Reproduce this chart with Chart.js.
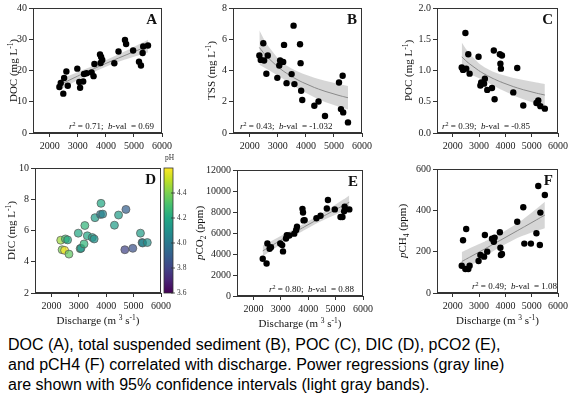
<!DOCTYPE html>
<html>
<head>
<meta charset="utf-8">
<script src="https://cdn.jsdelivr.net/npm/chart.js@4.4.0/dist/chart.umd.min.js"></script>
<style>
  body { margin: 0; width: 571px; height: 404px; background: #fff; position: relative; overflow: hidden; }
  canvas { position: absolute; }
  #caption { position: absolute; left: 8px; top: 335px; font-family: "Liberation Sans", Arial, sans-serif;
             font-size: 16px; line-height: 20px; color: #000; white-space: nowrap; }
</style>
</head>
<body>
<canvas id="A"></canvas>
<canvas id="B"></canvas>
<canvas id="C"></canvas>
<canvas id="D"></canvas>
<canvas id="E"></canvas>
<canvas id="F"></canvas>
<div id="caption">DOC (A), total suspended sediment (B), POC (C), DIC (D), pCO2 (E),<br>and pCH4 (F) correlated with discharge. Power regressions (gray line)<br>are shown with 95% confidence intervals (light gray bands).</div>
<script>
// discharge (m3 s-1) of each sample, shared by all panels
const discharge = [2340, 2390, 2480, 2510, 2590, 2640, 2980, 3050, 3080, 3190, 3220, 3310, 3490, 3560, 3590,
                   3790, 3810, 3830, 3870, 4300, 4450, 4680, 4720, 4970, 5180, 5250, 5310, 5330, 5500]

// measured values, null where the sample has no point in that panel
const doc  = [14.7, 16.0, 12.6, 17.6, 19.7, 15.1, 20.6, 16.3, 14.5, 16.5, 18.9, 19.1, 19.4, 18.2, 22.1,
              25.1, 22.4, 24.3, 23.4, 22.3, 26.1, 29.8, 28.5, 26.4, 22.8, 21.6, 25.6, 27.7, 28.0]
const tss  = [4.96, 4.68, 5.74, 4.64, 3.79, 4.96, 3.53, 4.32, 4.64, 4.55, 5.64, 3.19, 3.77, 6.87, 3.13,
              5.68, 4.47, 2.70, 2.11, 1.74, 2.02, 1.09, null, null, 3.23, 1.53, 3.66, 1.32, 0.68]
const poc  = [1.05, 1.01, 1.60, 1.03, 1.26, 0.95, 1.22, 0.76, 0.81, 0.79, 0.87, 0.69, 0.72, 1.32, 0.54,
              1.26, 1.11, 1.03, 1.24, 0.65, 1.04, 0.44, null, null, 0.48, 0.52, null, 0.43, 0.39]
const dic  = [5.38, 4.77, 4.73, 5.46, 5.40, 4.49, 5.83, 4.84, 4.86, 5.14, 6.32, 5.66, 5.55, 5.46, 6.82,
              7.03, 7.74, null, 7.05, 6.34, 6.99, 4.77, 7.35, 4.86, null, 5.83, 5.23, 5.20, 5.23]
const ph   = [4.45, 4.40, 4.60, 4.30, 4.20, 4.35, 4.20, 4.25, 4.10, 4.25, 4.25, 4.20, 4.15, 4.10, 4.15,
              4.00, 4.20, null, 4.05, 4.15, 4.15, 3.80, 3.90, 3.85, null, 4.15, 4.00, 4.05, 4.10]
const pco2 = [3550, null, 3090, 5000, 4500, 4650, 5000, 4850, 4250, 5480, 5800, 5760, 5940, 6280, 6590,
              8300, 7950, 7200, 7230, 7400, 7650, 8330, 9140, 8250, 7530, 7530, 8060, 8500, 8250]
const pch4 = [132, 255, 116, 310, 116, 132, 155, 184, null, 176, 281, 200, 263, 248, 268,
              294, 219, 184, 189, null, 345, 415, 239, 239, 289, 518, 232, 389, 474]

// tick labels
const dischargeTicks = [2000, 3000, 4000, 5000, 6000]
const docTicks  = [0, 10, 20, 30, 40]
const tssTicks  = [0, 2, 4, 6, 8]
const pocTicks  = [0, 0.5, 1.0, 1.5, 2.0]
const dicTicks  = [2, 4, 6, 8, 10]
const pco2Ticks = [0, 2000, 4000, 6000, 8000, 10000, 12000]
const pch4Ticks = [0, 200, 400, 600]
const phTicks   = [3.6, 3.8, 4.0, 4.2, 4.4]

// regression statistics printed in the panels
const r2Vals = ["0.71", "0.43", "0.39", "0.80", "0.49"]
const bVals  = ["0.69", "-1.032", "-0.85", "0.88", "1.08"]

const SERIF = '"Liberation Serif", "Times New Roman", serif'
const viridis = ["#440154", "#482475", "#414487", "#355f8d", "#2a788e", "#21918c", "#22a884", "#44bf70", "#7ad151", "#bddf26", "#fde725"]
const phMin = 3.6, phMax = 4.6

function hexRgb(h) { return [1, 3, 5].map(i => parseInt(h.substr(i, 2), 16)) }
function viridisColor(t, alpha) {
    t = Math.max(0, Math.min(1, t)) * (viridis.length - 1)
    const i = Math.min(Math.floor(t), viridis.length - 2), f = t - i
    const c0 = hexRgb(viridis[i]), c1 = hexRgb(viridis[i + 1])
    const c = c0.map((v, k) => Math.round(v + (c1[k] - v) * f))
    return `rgba(${c[0]},${c[1]},${c[2]},${alpha})`
}

// power regression y = a*x^b by nonlinear least squares, 95% band from the delta method
function powerFit(xs, ys) {
    const pts = xs.map((x, i) => [x / 1000, ys[i]]).filter(p => p[1] != null)
    const n = pts.length
    // start from the log-log fit
    const lx = pts.map(p => Math.log(p[0])), ly = pts.map(p => Math.log(p[1]))
    const mx = lx.reduce((a, b) => a + b) / n, my = ly.reduce((a, b) => a + b) / n
    let sxx = 0, sxy = 0
    for (let i = 0; i < n; i++) { sxx += (lx[i] - mx) ** 2; sxy += (lx[i] - mx) * (ly[i] - my) }
    let b = sxy / sxx, a = Math.exp(my - b * mx)
    let inv = [[0, 0], [0, 0]]
    for (let it = 0; it < 50; it++) {
        let m00 = 0, m01 = 0, m11 = 0, g0 = 0, g1 = 0
        pts.forEach(([u, y]) => {
            const p = Math.pow(u, b), j0 = p, j1 = a * p * Math.log(u), r = y - a * p
            m00 += j0 * j0; m01 += j0 * j1; m11 += j1 * j1; g0 += j0 * r; g1 += j1 * r
        })
        const det = m00 * m11 - m01 * m01
        inv = [[m11 / det, -m01 / det], [-m01 / det, m00 / det]]
        a += inv[0][0] * g0 + inv[0][1] * g1
        b += inv[1][0] * g0 + inv[1][1] * g1
    }
    let sse = 0
    pts.forEach(([u, y]) => { sse += (y - a * Math.pow(u, b)) ** 2 })
    const s2 = sse / (n - 2), t = 2.06
    const line = [], lo = [], hi = []
    pts.forEach(([u]) => {
        const p = Math.pow(u, b), f = a * p, d0 = p, d1 = a * p * Math.log(u)
        const v = s2 * (d0 * d0 * inv[0][0] + 2 * d0 * d1 * inv[0][1] + d1 * d1 * inv[1][1])
        const se = Math.sqrt(Math.max(v, 0))
        line.push({ x: u * 1000, y: f })
        lo.push({ x: u * 1000, y: f - t * se })
        hi.push({ x: u * 1000, y: f + t * se })
    })
    return { line, lo, hi }
}

function partFont(st, size) {
    const small = st === "sup" || st === "sub"
    return (st === "i" ? "italic " : "") + (small ? size * 0.68 : size) + "px " + SERIF
}
function richWidth(ctx, parts, size) {
    let w = 0
    parts.forEach(([txt, st]) => { ctx.font = partFont(st, size); w += ctx.measureText(txt).width })
    return w
}
function drawRich(ctx, parts, x, y, align, size) {
    const w = richWidth(ctx, parts, size)
    let cx = align === "center" ? x - w / 2 : align === "right" ? x - w : x
    ctx.textAlign = "left"
    ctx.textBaseline = "alphabetic"
    parts.forEach(([txt, st]) => {
        ctx.font = partFont(st, size)
        const dy = st === "sup" ? -size * 0.38 : st === "sub" ? size * 0.25 : 0
        ctx.fillText(txt, cx, y + dy)
        cx += ctx.measureText(txt).width
    })
}
const mgL = name => [[name + " (mg L", ""], ["-1", "sup"], [")", ""]]
const stats = i => [["r", "i"], ["2", "sup"], [" = " + r2Vals[i] + ";  ", ""], ["b", "i"], ["-val  = " + bVals[i], ""]]
const dischargeTitle = [["Discharge (m ", ""], ["3", "sup"], [" s", ""], ["-1", "sup"], [")", ""]]

const panels = [
    { id: "A", values: doc,  ticks: docTicks,  box: [0, 0, 195, 152],     plot: [33, 7, 162, 133],
      yTitle: mgL("DOC"), yTitleX: 13, stats: stats(0), statsAlign: "right", statsX: 154 },
    { id: "B", values: tss,  ticks: tssTicks,  box: [195, 0, 195, 152],   plot: [233, 7, 362, 133],
      yTitle: mgL("TSS"), yTitleX: 211, stats: stats(1), statsAlign: "left", statsX: 240 },
    { id: "C", values: poc,  ticks: pocTicks,  box: [390, 0, 181, 152],   plot: [437, 8, 562, 133], fixed: 1,
      yTitle: mgL("POC"), yTitleX: 408, stats: stats(2), statsAlign: "left", statsX: 442 },
    { id: "D", values: dic,  ticks: dicTicks,  box: [0, 152, 190, 178],   plot: [35, 168, 161, 293], colour: ph,
      yTitle: mgL("DIC"), yTitleX: 11, xTitle: true },
    { id: "E", values: pco2, ticks: pco2Ticks, box: [190, 152, 200, 178], plot: [237, 170, 363, 296],
      yTitle: [["p", "i"], ["CO", ""], ["2", "sub"], [" (ppm)", ""]], yTitleX: 199,
      stats: stats(3), statsAlign: "right", statsX: 354, xTitle: true },
    { id: "F", values: pch4, ticks: pch4Ticks, box: [390, 152, 181, 178], plot: [437, 169, 562, 293],
      yTitle: [["p", "i"], ["CH", ""], ["4", "sub"], [" (ppm)", ""]], yTitleX: 402,
      stats: stats(4), statsAlign: "right", statsX: 557, xTitle: true }
]

function drawDecor(chart, p) {
    const ctx = chart.ctx, a = chart.chartArea
    const [bx, by] = p.box
    ctx.save()
    ctx.strokeStyle = "#333"
    ctx.lineWidth = 1
    ctx.strokeRect(Math.round(a.left) + 0.5, Math.round(a.top) + 0.5, Math.round(a.right - a.left) - 1, Math.round(a.bottom - a.top) - 1)
    ctx.fillStyle = "#111"
    // panel letter
    ctx.font = "bold 15px " + SERIF
    ctx.textAlign = "right"
    ctx.textBaseline = "alphabetic"
    ctx.fillText(p.id, a.right - 5, a.top + 16)
    // regression stats
    if (p.stats) drawRich(ctx, p.stats, p.statsX - bx, a.bottom - 4, p.statsAlign, 9)
    // y title
    ctx.save()
    ctx.translate(p.yTitleX - bx + 4, (a.top + a.bottom) / 2)
    ctx.rotate(-Math.PI / 2)
    drawRich(ctx, p.yTitle, 0, 0, "center", 11)
    ctx.restore()
    if (p.xTitle) drawRich(ctx, dischargeTitle, (a.left + a.right) / 2, a.bottom + 31, "center", 11)
    // colour bar for pH
    if (p.colour) {
        const x0 = 164 - bx, w = 9, top = a.top, bot = a.bottom
        const g = ctx.createLinearGradient(0, bot, 0, top)
        viridis.forEach((c, i) => g.addColorStop(i / (viridis.length - 1), c))
        ctx.fillStyle = g
        ctx.fillRect(x0, top, w, bot - top)
        ctx.strokeStyle = "#333"
        ctx.lineWidth = 0.8
        ctx.strokeRect(x0, top, w, bot - top)
        ctx.fillStyle = "#333"
        ctx.font = "7.5px " + SERIF
        ctx.textAlign = "left"
        ctx.textBaseline = "middle"
        phTicks.forEach(v => {
            const y = bot - (v - phMin) / (phMax - phMin) * (bot - top)
            ctx.beginPath()
            ctx.moveTo(x0 + w - 2, y)
            ctx.lineTo(x0 + w + 2, y)
            ctx.stroke()
            ctx.fillText(v.toFixed(1), x0 + w + 4, y)
        })
        ctx.textAlign = "center"
        ctx.fillText("pH", x0 + w / 2 + 1, top - 10)
    }
    ctx.restore()
}

panels.forEach(p => {
    const cv = document.getElementById(p.id)
    const [bx, by, bw, bh] = p.box
    const [pl, pt, pr, pb] = p.plot
    cv.width = bw; cv.height = bh
    cv.style.left = bx + "px"; cv.style.top = by + "px"
    cv.style.width = bw + "px"; cv.style.height = bh + "px"

    const pts = discharge.map((x, i) => ({ x, y: p.values[i], c: p.colour ? p.colour[i] : null })).filter(d => d.y != null)
    const datasets = [{
        data: pts,
        showLine: false,
        pointRadius: p.colour ? 4 : 3.2,
        pointBackgroundColor: p.colour ? pts.map(d => viridisColor((d.c - phMin) / (phMax - phMin), 0.72)) : "#000",
        pointBorderColor: p.colour ? "#555" : "#000",
        pointBorderWidth: p.colour ? 0.7 : 0,
        order: 0
    }]
    if (!p.colour) {
        const fit = powerFit(discharge, p.values)
        datasets.push(
            { data: fit.line, borderColor: "#8a8a8a", borderWidth: 1, pointRadius: 0, order: 1 },
            { data: fit.hi, borderWidth: 0, borderColor: "rgba(0,0,0,0)", pointRadius: 0, fill: "+1", backgroundColor: "rgba(200,200,200,0.75)", order: 2 },
            { data: fit.lo, borderWidth: 0, borderColor: "rgba(0,0,0,0)", pointRadius: 0, fill: false, order: 3 }
        )
    }
    const tickFont = { family: SERIF, size: 10 }
    new Chart(cv.getContext("2d"), {
        type: "line",
        data: { datasets },
        options: {
            responsive: false,
            animation: false,
            events: [],
            layout: { padding: { left: 0, top: pt - by, right: bx + bw - pr, bottom: 0 } },
            plugins: { legend: { display: false }, tooltip: { enabled: false } },
            scales: {
                x: {
                    type: "linear", min: 1400, max: 6000,
                    afterBuildTicks: s => { s.ticks = dischargeTicks.map(v => ({ value: v })) },
                    afterFit: s => { s.height = by + bh - pb },
                    grid: { drawOnChartArea: false, tickLength: 4, color: "#333" },
                    border: { color: "#333", width: 1 },
                    ticks: { font: tickFont, color: "#222", padding: 3, maxRotation: 0, autoSkip: false,
                             callback: v => String(v) }
                },
                y: {
                    type: "linear", min: p.ticks[0], max: p.ticks[p.ticks.length - 1],
                    afterBuildTicks: s => { s.ticks = p.ticks.map(v => ({ value: v })) },
                    afterFit: s => { s.width = pl - bx },
                    grid: { drawOnChartArea: false, tickLength: 4, color: "#333" },
                    border: { color: "#333", width: 1 },
                    ticks: { font: tickFont, color: "#222", padding: 2, autoSkip: false,
                             callback: v => p.fixed ? v.toFixed(p.fixed) : String(v) }
                }
            }
        },
        plugins: [{ id: "decor", afterDraw: chart => drawDecor(chart, p) }]
    })
})
</script>
</body>
</html>
